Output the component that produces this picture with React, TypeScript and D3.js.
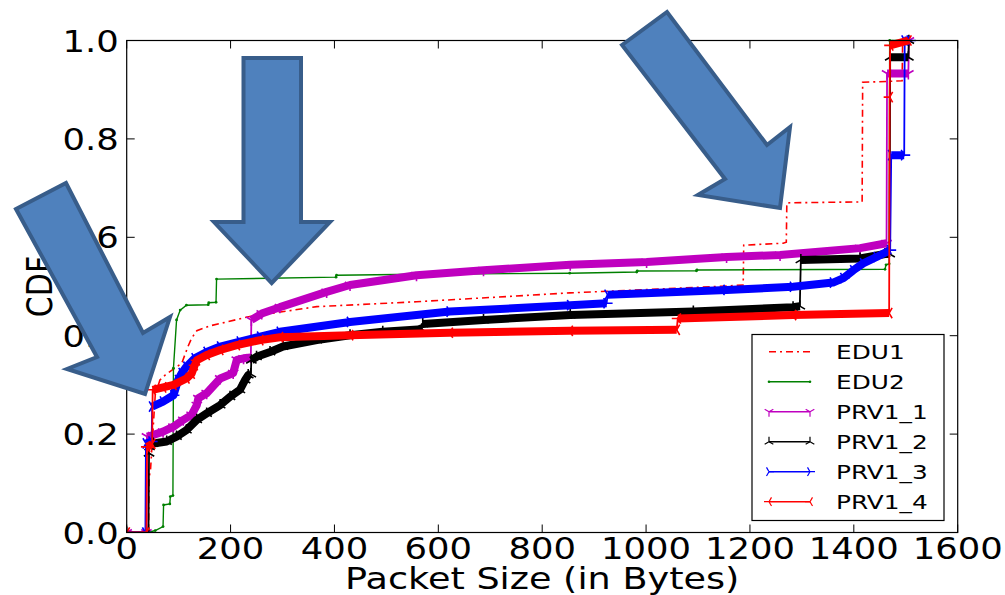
import React from 'react';
import * as d3 from 'd3';

// ---------- data ----------
const xTicks = [0, 200, 400, 600, 800, 1000, 1200, 1400, 1600];
const yTicks = [0, 0.2, 0.4, 0.6, 0.8, 1.0];
const xLabel = 'Packet Size (in Bytes)';
const yLabel = 'CDF';
const seriesNames = ['EDU1', 'EDU2', 'PRV1_1', 'PRV1_2', 'PRV1_3', 'PRV1_4'];

const EDU1: [number, number][] = [
  [0, 0], [42, 0], [43, 0.11], [46, 0.13], [55, 0.28], [64, 0.31], [74, 0.32], [106, 0.344],
  [118, 0.378], [125, 0.395], [135, 0.41], [160, 0.42], [193, 0.428], [224, 0.436], [237, 0.439],
  [366, 0.459], [558, 0.469], [853, 0.487], [1155, 0.501], [1187, 0.503], [1188, 0.584],
  [1264, 0.588], [1270, 0.59], [1271, 0.67], [1416, 0.672], [1417, 0.915], [1493, 0.918],
  [1494, 1.0], [1505, 1.0],
];
const EDU2: [number, number][] = [
  [0, 0], [41, 0], [55, 0.004], [70, 0.012], [71, 0.056], [83, 0.058], [84, 0.073], [89, 0.075],
  [90, 0.334], [96, 0.432], [103, 0.452], [115, 0.462], [157, 0.463], [158, 0.467], [172, 0.468],
  [173, 0.515], [403, 0.519], [404, 0.523], [558, 0.525], [853, 0.527], [982, 0.5295],
  [983, 0.5315], [1097, 0.532], [1098, 0.5335], [1460, 0.535], [1462, 0.544], [1468, 0.546],
  [1469, 1.0], [1505, 1.0],
];
const PRV1_1: [number, number][] = [
  [0, 0], [38, 0], [39, 0.195], [51, 0.198], [70, 0.205], [90, 0.215], [109, 0.229], [125, 0.239],
  [135, 0.259], [138, 0.273], [154, 0.283], [180, 0.313], [205, 0.324], [212, 0.351], [225, 0.354],
  [239, 0.356], [240, 0.432], [260, 0.445], [295, 0.458], [385, 0.489], [430, 0.503], [558, 0.523],
  [687, 0.533], [854, 0.544], [1001, 0.55], [1155, 0.56], [1258, 0.564], [1412, 0.578],
  [1463, 0.588], [1464, 0.933], [1505, 0.933], [1506, 1.0],
];
const PRV1_2: [number, number][] = [
  [0, 0], [42, 0], [43, 0.161], [44, 0.174], [51, 0.181], [77, 0.185], [96, 0.195], [115, 0.208],
  [135, 0.229], [154, 0.242], [180, 0.259], [199, 0.276], [218, 0.29], [228, 0.31], [234, 0.32],
  [239, 0.322], [240, 0.35], [250, 0.357], [276, 0.367], [301, 0.378], [366, 0.391], [430, 0.401],
  [493, 0.408], [568, 0.413], [570, 0.424], [687, 0.432], [854, 0.442], [1091, 0.449],
  [1283, 0.458], [1296, 0.46], [1298, 0.554], [1412, 0.557], [1460, 0.566], [1469, 0.566],
  [1470, 0.966], [1505, 0.966], [1506, 1.0],
];
const PRV1_3: [number, number][] = [
  [0, 0], [36, 0], [37, 0.181], [48, 0.185], [49, 0.256], [70, 0.266], [90, 0.279], [99, 0.31],
  [106, 0.324], [115, 0.337], [131, 0.354], [154, 0.367], [180, 0.378], [218, 0.388], [257, 0.398],
  [295, 0.408], [430, 0.428], [622, 0.449], [854, 0.462], [924, 0.466], [926, 0.483],
  [1155, 0.493], [1283, 0.4995], [1360, 0.508], [1380, 0.517], [1399, 0.533], [1418, 0.547],
  [1444, 0.56], [1470, 0.574], [1472, 0.767], [1497, 0.767], [1498, 1.0], [1508, 1.0],
];
const PRV1_4: [number, number][] = [
  [0, 0], [38, 0], [39, 0.174], [49, 0.18], [50, 0.29], [70, 0.295], [90, 0.3], [115, 0.313],
  [125, 0.323], [131, 0.34], [135, 0.35], [154, 0.361], [180, 0.371], [212, 0.381], [257, 0.391],
  [295, 0.397], [430, 0.401], [622, 0.406], [853, 0.41], [1059, 0.412], [1061, 0.435],
  [1283, 0.442], [1468, 0.446], [1469, 0.885], [1470, 0.99], [1505, 1.0],
];
const seriesValues = [EDU1, EDU2, PRV1_1, PRV1_2, PRV1_3, PRV1_4];

// ---------- styles ----------
const seriesColors = ['#ff0000', '#008000', '#bf00bf', '#000000', '#0000ff', '#ff0000'];
const seriesMarkers = ['none', 'dot', 'tri_down', 'tri_up', 'tri_right', 'tri_left'];
const seriesDash = ['7,4,2,4', null, null, null, null, null];
const seriesBand = [false, false, true, true, true, true];

// annotation arrows (figure pixel space)
const arrows: [number, number][][] = [
  [[16, 209], [66, 183], [143, 333], [170, 317], [145, 394], [67, 369], [97, 357]],
  [[243.5, 58], [301, 58], [301, 222], [330, 222], [271.7, 283], [214, 222], [243.5, 222]],
  [[622, 45], [667, 12], [767, 145], [790, 127], [780, 208], [698, 195], [725, 179]],
];

const W = 1005;
const H = 595;
const PL = 126.7, PR = 957.7, PT = 40.5, PB = 532.5;
const SX = 1.18;
const FONT = 'DejaVu Sans';

function markerPath(kind: string, cx: number, cy: number, r: number): string {
  const a = 0.866 * r, b = 0.5 * r;
  let arms: [number, number][] = [];
  if (kind === 'tri_down') arms = [[0, r], [-a, -b], [a, -b]];
  else if (kind === 'tri_up') arms = [[0, -r], [-a, b], [a, b]];
  else if (kind === 'tri_left') arms = [[-r, 0], [b, -a], [b, a]];
  else if (kind === 'tri_right') arms = [[r, 0], [-b, -a], [-b, a]];
  return arms.map(([dx, dy]) => `M${cx},${cy}L${cx + dx},${cy + dy}`).join('');
}

function bandRuns(pts: [number, number][]): [number, number][][] {
  const runs: [number, number][][] = [];
  let cur: [number, number][] | null = null;
  for (let i = 0; i < pts.length - 1; i++) {
    const a = pts[i], b = pts[i + 1];
    const thick = b[0] - a[0] > 2 && a[1] > 0 && b[1] > 0;
    if (thick) {
      if (!cur) { cur = [a]; runs.push(cur); }
      cur.push(b);
    } else cur = null;
  }
  return runs;
}

export default function App() {
  const x = d3.scaleLinear().domain([0, 1600]).range([PL, PR]);
  const y = d3.scaleLinear().domain([0, 1]).range([PB, PT]);
  const line = d3.line<[number, number]>().x(d => x(d[0])).y(d => y(d[1]));

  return (
    <svg width={W} height={H} style={{ position: 'absolute', left: 0, top: 0, background: '#fff' }}
      fontFamily={FONT}>
      <defs>
        <clipPath id="plotclip">
          <rect x={PL} y={PT - 6} width={PR - PL + 6} height={PB - PT + 6} />
        </clipPath>
      </defs>
      <rect x={0} y={0} width={W} height={H} fill="#fff" />

      {/* series */}
      <g clipPath="url(#plotclip)">
        {seriesValues.map((pts, si) => {
          const color = seriesColors[si];
          const mk = seriesMarkers[si];
          return (
            <g key={seriesNames[si]}>
              {seriesBand[si] && bandRuns(pts).map((run, ri) => (
                <path key={ri} d={line(run) || ''} fill="none" stroke={color} strokeWidth={8}
                  strokeLinejoin="round" />
              ))}
              <path d={line(pts) || ''} fill="none" stroke={color}
                strokeWidth={si === 0 ? 1.6 : si === 1 ? 1.4 : 1.8}
                strokeDasharray={seriesDash[si] || undefined} />
              {mk === 'dot' && pts.map((p, i) => (
                <circle key={i} cx={x(p[0])} cy={y(p[1])} r={1.4} fill={color} />
              ))}
              {mk.startsWith('tri') && (
                <path d={pts.map(p => markerPath(mk, x(p[0]), y(p[1]), 6)).join('')}
                  stroke={color} strokeWidth={1.6} fill="none" />
              )}
            </g>
          );
        })}
      </g>

      {/* frame */}
      <rect x={PL} y={PT} width={PR - PL} height={PB - PT} fill="none" stroke="#000" strokeWidth={1.2} />

      {/* ticks */}
      {xTicks.map(t => (
        <g key={'x' + t}>
          <line x1={x(t)} x2={x(t)} y1={PB} y2={PB - 8} stroke="#000" strokeWidth={1} />
          <line x1={x(t)} x2={x(t)} y1={PT} y2={PT + 8} stroke="#000" strokeWidth={1} />
          <text transform={`translate(${x(t)},${PB + 26}) scale(${SX},1)`} textAnchor="middle"
            fontSize={30} fill="#000">{t}</text>
        </g>
      ))}
      {yTicks.map(t => (
        <g key={'y' + t}>
          <line x1={PL} x2={PL + 8} y1={y(t)} y2={y(t)} stroke="#000" strokeWidth={1} />
          <line x1={PR} x2={PR - 8} y1={y(t)} y2={y(t)} stroke="#000" strokeWidth={1} />
          <text transform={`translate(${PL - 8},${y(t) + 11}) scale(${SX},1)`} textAnchor="end"
            fontSize={30} fill="#000">{t.toFixed(1)}</text>
        </g>
      ))}

      {/* axis labels */}
      <text transform={`translate(${(PL + PR) / 2},${PB + 56}) scale(1.22,1)`} textAnchor="middle"
        fontSize={30} fill="#000">{xLabel}</text>
      <text transform={`translate(52,${(PT + PB) / 2}) scale(${SX},1) rotate(-90)`} textAnchor="middle"
        fontSize={30} fill="#000">{yLabel}</text>

      {/* legend */}
      <g>
        <rect x={752} y={334.5} width={192} height={186} fill="#fff" stroke="#000" strokeWidth={1.2} />
        {seriesNames.map((name, i) => {
          const cy = 351.7 + i * 30;
          const color = seriesColors[i];
          const mk = seriesMarkers[i];
          return (
            <g key={name}>
              <line x1={769} x2={810} y1={cy} y2={cy} stroke={color} strokeWidth={1.4}
                strokeDasharray={seriesDash[i] || undefined} />
              {mk === 'dot' && [769, 810].map(px => <circle key={px} cx={px} cy={cy} r={1.3} fill={color} />)}
              {mk.startsWith('tri') && (
                <path d={markerPath(mk, 769, cy, 5) + markerPath(mk, 810, cy, 5)} stroke={color}
                  strokeWidth={1.2} fill="none" />
              )}
              <text transform={`translate(836,${cy + 7.5}) scale(${SX + 0.06},1)`} fontSize={20}
                fill="#000">{name}</text>
            </g>
          );
        })}
      </g>

      {/* annotation arrows */}
      {arrows.map((pts, i) => (
        <polygon key={i} points={pts.map(p => p.join(',')).join(' ')} fill="#4f81bd"
          stroke="#385d8a" strokeWidth={4} strokeLinejoin="miter" />
      ))}
    </svg>
  );
}
